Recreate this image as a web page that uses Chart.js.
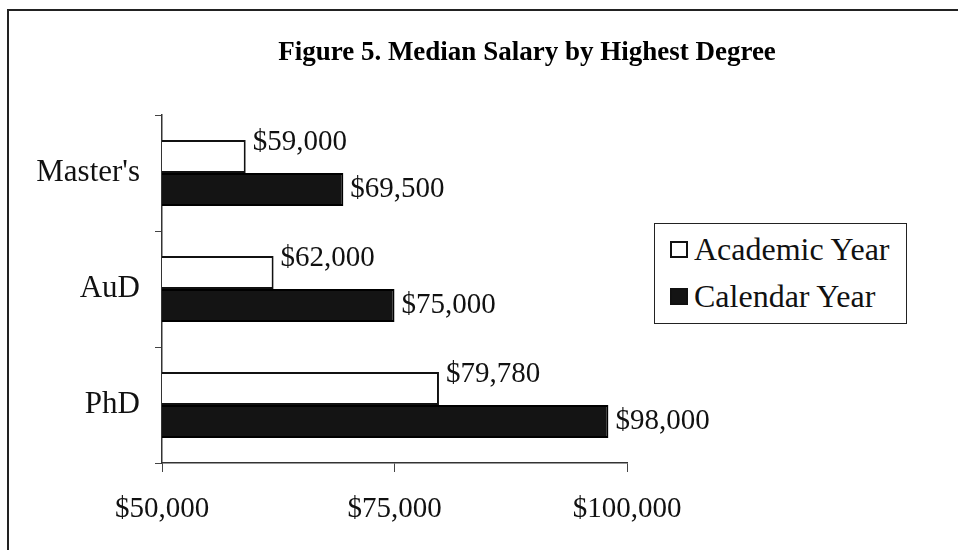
<!DOCTYPE html>
<html>
<head>
<meta charset="utf-8">
<script src="https://cdn.jsdelivr.net/npm/chart.js@4.4.1/dist/chart.umd.min.js"></script>
<style>
  html, body { margin: 0; padding: 0; background: #fff; overflow: hidden; }
  #wrap { position: relative; width: 958px; height: 550px; }
  #frame { position: absolute; left: 7px; top: 9px; width: 1000px; height: 600px;
           border-left: 2px solid #222; border-top: 2px solid #222; pointer-events: none; }
  #legend { position: absolute; left: 654px; top: 223px; width: 253px; height: 101px;
            border: 1.5px solid #222; box-sizing: border-box; background: #fff;
            font-family: "Liberation Serif", serif; font-size: 32px; color: #111; }
  #legend .item { position: absolute; left: 15px; display: flex; align-items: center; white-space: nowrap; }
  #legend .sw { width: 18px; height: 17px; box-sizing: border-box; border: 2px solid #111; margin-right: 6px; }
</style>
</head>
<body>
<div id="wrap">
  <canvas id="salario" width="958" height="550"></canvas>
  <div id="frame"></div>
  <div id="legend"></div>
</div>
<script>
// datos
const categorias = ["Master's", "AuD", "PhD"];
const academico = [59000, 62000, 79780];
const calendario = [69500, 75000, 98000];
const nombres = ["Academic Year", "Calendar Year"];
const ticksX = [50000, 75000, 100000];
const titulo = "Figure 5. Median Salary by Highest Degree";

const FUENTE = "'Liberation Serif', serif";
const fmt = v => "$" + v.toLocaleString("en-US");

// titulo centrado sobre el marco completo
const tituloPlugin = {
  id: "tituloPlugin",
  afterDraw(chart) {
    const ctx = chart.ctx;
    ctx.save();
    ctx.font = "bold 27px " + FUENTE;
    ctx.fillStyle = "#000";
    ctx.textAlign = "center";
    ctx.textBaseline = "middle";
    ctx.fillText(titulo, 527, 53);
    ctx.restore();
  }
};

// etiquetas de valor al final de cada barra
const etiquetas = {
  id: "etiquetas",
  afterDatasetsDraw(chart) {
    const ctx = chart.ctx;
    ctx.save();
    ctx.font = "29px " + FUENTE;
    ctx.fillStyle = "#111";
    ctx.textAlign = "left";
    ctx.textBaseline = "middle";
    chart.data.datasets.forEach((ds, i) => {
      const dy = i === 0 ? -14 : 0;
      chart.getDatasetMeta(i).data.forEach((bar, j) => {
        ctx.fillText(fmt(ds.data[j]), bar.x + 7, bar.y + dy);
      });
    });
    ctx.restore();
  }
};

const ctx = document.getElementById("salario").getContext("2d");

const chart = new Chart(ctx, {
  type: "bar",
  data: {
    labels: categorias,
    datasets: [
      {
        label: nombres[0],
        data: academico,
        backgroundColor: "#ffffff",
        borderColor: "#111",
        borderWidth: 2,
        barPercentage: 1,
        categoryPercentage: 0.57
      },
      {
        label: nombres[1],
        data: calendario,
        backgroundColor: "#141414",
        borderColor: "#000",
        borderWidth: 2,
        barPercentage: 1,
        categoryPercentage: 0.57
      }
    ]
  },
  options: {
    indexAxis: "y",
    responsive: false,
    animation: false,
    layout: { padding: { left: 0, right: 331, top: 115, bottom: 0 } },
    plugins: {
      legend: { display: false },
      tooltip: { enabled: false },
      title: { display: false }
    },
    scales: {
      x: {
        min: 50000,
        max: 100000,
        afterBuildTicks: s => { s.ticks = ticksX.map(v => ({ value: v })); },
        afterFit: s => { s.height = 87; },
        ticks: {
          callback: v => fmt(v),
          color: "#111",
          padding: 20,
          maxRotation: 0,
          font: { family: FUENTE, size: 29 }
        },
        grid: { drawOnChartArea: false, drawTicks: true, tickLength: 9, color: "#444" },
        border: { display: true, color: "#333", width: 1.5 }
      },
      y: {
        afterFit: s => { s.width = 162; },
        ticks: {
          color: "#111",
          padding: 15,
          font: { family: FUENTE, size: 31 }
        },
        grid: { drawOnChartArea: false, drawTicks: true, tickLength: 7, color: "#444", offset: true },
        border: { display: true, color: "#333", width: 1.5 }
      }
    }
  },
  plugins: [etiquetas, tituloPlugin]
});

// leyenda
const leyenda = document.getElementById("legend");
chart.data.datasets.forEach((ds, i) => {
  const item = document.createElement("div");
  item.className = "item";
  item.style.top = (i === 0 ? 7 : 54) + "px";
  item.innerHTML = `<span class="sw" style="background:${ds.backgroundColor}"></span>${ds.label}`;
  leyenda.appendChild(item);
});
</script>
</body>
</html>
